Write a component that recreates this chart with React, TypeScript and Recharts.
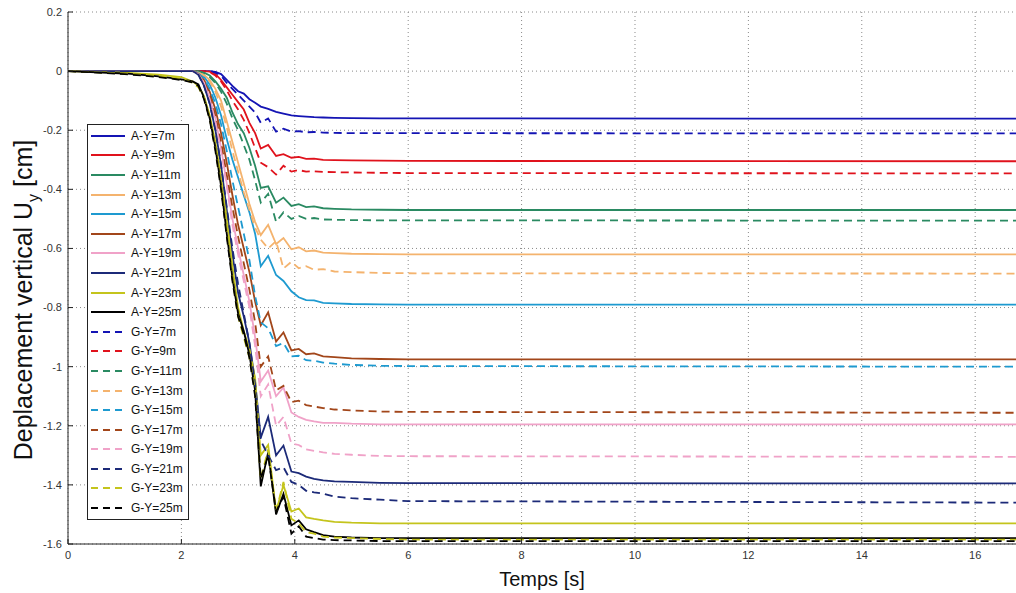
import React from 'react';
import { LineChart, Line, XAxis, YAxis, CartesianGrid, Legend } from 'recharts';

// time samples [s]
const TIME = [0, 1, 1.6, 2.0, 2.2, 2.3, 2.4, 2.5, 2.6, 2.7, 2.8, 2.9, 3.0, 3.1, 3.2, 3.3, 3.4, 3.53, 3.67, 3.8, 3.94, 4.07, 4.2, 4.34, 4.5, 4.7, 5.0, 5.5, 6.0, 16.72];

// vertical displacement [cm], A = solid, G = dashed
const A_7 = [0, 0, 0, 0, 0, 0, 0, 0, -0.003, -0.01, -0.03, -0.05, -0.068, -0.076, -0.095, -0.107, -0.12, -0.128, -0.138, -0.144, -0.15, -0.152, -0.154, -0.156, -0.157, -0.158, -0.159, -0.16, -0.16, -0.161];
const A_9 = [0, 0, 0, 0, 0, 0, 0, -0.002, -0.01, -0.03, -0.055, -0.08, -0.105, -0.13, -0.175, -0.21, -0.262, -0.25, -0.287, -0.281, -0.293, -0.29, -0.297, -0.296, -0.3, -0.301, -0.302, -0.303, -0.304, -0.305];
const A_11 = [0, 0, 0, 0, 0, 0, -0.005, -0.015, -0.035, -0.06, -0.09, -0.14, -0.18, -0.21, -0.26, -0.32, -0.395, -0.39, -0.445, -0.428, -0.456, -0.45, -0.46, -0.458, -0.464, -0.466, -0.468, -0.469, -0.47, -0.47];
const A_13 = [0, 0, 0, 0, 0, -0.004, -0.012, -0.03, -0.06, -0.1, -0.17, -0.24, -0.31, -0.38, -0.45, -0.51, -0.555, -0.52, -0.585, -0.565, -0.603, -0.596, -0.61, -0.607, -0.614, -0.616, -0.618, -0.619, -0.62, -0.62];
const A_15 = [0, 0, 0, 0, 0, -0.006, -0.02, -0.045, -0.09, -0.15, -0.23, -0.3, -0.36, -0.42, -0.478, -0.55, -0.66, -0.625, -0.69, -0.71, -0.745, -0.765, -0.775, -0.776, -0.784, -0.786, -0.788, -0.789, -0.79, -0.79];
const A_17 = [0, 0, 0, 0, 0, -0.008, -0.03, -0.07, -0.13, -0.21, -0.31, -0.42, -0.52, -0.6, -0.68, -0.78, -0.86, -0.816, -0.915, -0.884, -0.945, -0.94, -0.958, -0.955, -0.965, -0.968, -0.972, -0.974, -0.975, -0.975];
const A_19 = [0, 0, 0, 0, 0, -0.01, -0.04, -0.09, -0.16, -0.26, -0.38, -0.5, -0.6, -0.69, -0.78, -0.9, -1.05, -1.013, -1.1, -1.07, -1.155, -1.17, -1.18, -1.185, -1.19, -1.19, -1.193, -1.195, -1.195, -1.195];
const A_21 = [0, 0, 0, 0, 0, -0.012, -0.05, -0.11, -0.2, -0.32, -0.47, -0.62, -0.75, -0.83, -0.92, -1.05, -1.24, -1.17, -1.3, -1.267, -1.355, -1.36, -1.372, -1.38, -1.385, -1.388, -1.39, -1.393, -1.394, -1.395];
const A_23 = [0, -0.005, -0.012, -0.02, -0.035, -0.05, -0.085, -0.15, -0.24, -0.36, -0.5, -0.66, -0.8, -0.88, -0.94, -1.04, -1.3, -1.265, -1.49, -1.4, -1.49, -1.48, -1.51, -1.515, -1.52, -1.525, -1.528, -1.53, -1.53, -1.53];
const A_25 = [0, -0.008, -0.018, -0.028, -0.035, -0.045, -0.09, -0.16, -0.26, -0.39, -0.55, -0.7, -0.82, -0.88, -0.96, -1.08, -1.405, -1.29, -1.5, -1.43, -1.537, -1.52, -1.55, -1.56, -1.57, -1.575, -1.578, -1.58, -1.58, -1.58];

const G_7 = [0, 0, 0, 0, 0, 0, 0, 0, -0.005, -0.015, -0.04, -0.06, -0.08, -0.1, -0.12, -0.14, -0.175, -0.16, -0.205, -0.195, -0.205, -0.203, -0.207, -0.206, -0.208, -0.209, -0.21, -0.21, -0.21, -0.211];
const G_9 = [0, 0, 0, 0, 0, 0, 0, -0.003, -0.015, -0.035, -0.065, -0.1, -0.13, -0.165, -0.21, -0.26, -0.31, -0.325, -0.35, -0.32, -0.34, -0.335, -0.34, -0.339, -0.341, -0.342, -0.343, -0.344, -0.345, -0.346];
const G_11 = [0, 0, 0, 0, 0, 0, -0.006, -0.02, -0.04, -0.07, -0.11, -0.16, -0.2, -0.25, -0.3, -0.37, -0.445, -0.415, -0.51, -0.478, -0.5, -0.49, -0.5, -0.497, -0.502, -0.503, -0.504, -0.505, -0.505, -0.506];
const G_13 = [0, 0, 0, 0, 0, -0.005, -0.015, -0.035, -0.07, -0.12, -0.19, -0.27, -0.34, -0.41, -0.47, -0.53, -0.57, -0.6, -0.575, -0.668, -0.645, -0.667, -0.66, -0.672, -0.67, -0.678, -0.68, -0.683, -0.684, -0.685];
const G_15 = [0, 0, 0, 0, 0, -0.008, -0.025, -0.06, -0.11, -0.18, -0.27, -0.37, -0.46, -0.55, -0.64, -0.76, -0.85, -0.87, -0.93, -0.92, -0.965, -0.963, -0.978, -0.98, -0.986, -0.99, -0.994, -0.997, -0.998, -1.0];
const G_17 = [0, 0, 0, 0, 0, -0.01, -0.035, -0.08, -0.15, -0.24, -0.35, -0.46, -0.56, -0.65, -0.74, -0.85, -1.0, -0.965, -1.08, -1.065, -1.12, -1.115, -1.13, -1.135, -1.14, -1.145, -1.148, -1.152, -1.153, -1.156];
const G_19 = [0, 0, 0, 0, 0, -0.01, -0.04, -0.095, -0.17, -0.27, -0.39, -0.52, -0.62, -0.71, -0.8, -0.93, -1.1, -1.06, -1.2, -1.17, -1.26, -1.265, -1.28, -1.285, -1.29, -1.295, -1.298, -1.302, -1.303, -1.305];
const G_21 = [0, 0, 0, 0, 0, -0.012, -0.05, -0.11, -0.2, -0.32, -0.46, -0.6, -0.72, -0.82, -0.92, -1.06, -1.25, -1.3, -1.35, -1.34, -1.39, -1.4, -1.42, -1.425, -1.43, -1.44, -1.445, -1.45, -1.455, -1.46];
const G_23 = [0, -0.008, -0.016, -0.025, -0.04, -0.055, -0.09, -0.16, -0.26, -0.39, -0.54, -0.7, -0.83, -0.9, -0.97, -1.08, -1.38, -1.28, -1.49, -1.39, -1.515, -1.53, -1.56, -1.565, -1.575, -1.578, -1.58, -1.583, -1.585, -1.585];
const G_25 = [0, -0.01, -0.02, -0.03, -0.038, -0.05, -0.095, -0.165, -0.27, -0.4, -0.56, -0.71, -0.83, -0.89, -0.97, -1.1, -1.38, -1.3, -1.49, -1.44, -1.565, -1.54, -1.575, -1.58, -1.585, -1.587, -1.588, -1.59, -1.59, -1.59];

const DEPTHS = ['7m', '9m', '11m', '13m', '15m', '17m', '19m', '21m', '23m', '25m'];
const COLORS = ['#1414b4', '#e0121c', '#2a8a62', '#f4b36e', '#1e9ad0', '#a2461a', '#f0a2c8', '#1c2a78', '#c4c41c', '#000000'];
const A_SERIES = [A_7, A_9, A_11, A_13, A_15, A_17, A_19, A_21, A_23, A_25];
const G_SERIES = [G_7, G_9, G_11, G_13, G_15, G_17, G_19, G_21, G_23, G_25];

const X_TICKS = [0, 2, 4, 6, 8, 10, 12, 14, 16];
const Y_TICKS = [0.2, 0, -0.2, -0.4, -0.6, -0.8, -1, -1.2, -1.4, -1.6];

const series = [
  ...A_SERIES.map((vals, i) => ({ key: 'A' + i, name: 'A-Y=' + DEPTHS[i], color: COLORS[i], dashed: false, vals })),
  ...G_SERIES.map((vals, i) => ({ key: 'G' + i, name: 'G-Y=' + DEPTHS[i], color: COLORS[i], dashed: true, vals })),
];

const data = TIME.map((t, j) => {
  const row: any = { t };
  series.forEach(s => { row[s.key] = s.vals[j]; });
  return row;
});

const FONT = '"Liberation Sans", Arial, sans-serif';

const LegendBox = () => (
  <div style={{ border: '1px solid #222', background: '#fff', width: 100, padding: '1px 0', fontFamily: FONT, fontSize: 12, color: '#111' }}>
    {series.map(s => (
      <div key={s.key} style={{ display: 'flex', alignItems: 'center', height: 19.6 }}>
        <svg width={40} height={6} style={{ marginLeft: 3 }}>
          <line x1={0} y1={3} x2={34} y2={3} stroke={s.color} strokeWidth={2} strokeDasharray={s.dashed ? '7 5' : undefined} />
        </svg>
        <span>{s.name}</span>
      </div>
    ))}
  </div>
);

const YLabel = (props: any) => {
  const vb = props.viewBox || { x: 0, y: 12, width: 68, height: 532 };
  const cx = 32;
  const cy = vb.y + vb.height / 2 + 22;
  return (
    <text x={cx} y={cy} transform={`rotate(-90 ${cx} ${cy})`} textAnchor="middle" fontFamily={FONT} fontSize={25} fill="#111">
      Deplacement vertical U<tspan fontSize={16} dy={7}>y</tspan><tspan dy={-7}> [cm]</tspan>
    </text>
  );
};

const XLabel = (props: any) => {
  const vb = props.viewBox || { x: 68, y: 544, width: 948, height: 49 };
  return (
    <text x={vb.x + vb.width / 2} y={vb.y + 42} textAnchor="middle" fontFamily={FONT} fontSize={20} fill="#111">
      Temps [s]
    </text>
  );
};

const fmtY = (v: number) => (Math.abs(v) < 1e-9 ? '0' : String(Math.round(v * 10) / 10));

export default function App() {
  return (
    <div style={{ position: 'absolute', left: 0, top: 0, background: '#fff' }}>
      <LineChart width={1016} height={593} data={data} margin={{ top: 12, right: 0, bottom: 0, left: 0 }}>
        <CartesianGrid stroke="#8a8a8a" strokeDasharray="1 3" horizontalValues={Y_TICKS} verticalValues={X_TICKS} />
        <XAxis
          dataKey="t"
          type="number"
          domain={[0, 16.72]}
          ticks={X_TICKS}
          allowDataOverflow
          height={49}
          stroke="#222"
          tickSize={-5}
          tickMargin={12}
          tick={{ fontFamily: FONT, fontSize: 11, fill: '#333' }}
          label={<XLabel />}
        />
        <XAxis xAxisId="top" orientation="top" dataKey="t" type="number" domain={[0, 16.72]} ticks={X_TICKS} height={0} stroke="#222" tick={false} tickSize={-5} />
        <YAxis
          type="number"
          domain={[-1.6, 0.2]}
          ticks={Y_TICKS}
          allowDataOverflow
          width={68}
          stroke="#222"
          tickSize={-5}
          tickMargin={11}
          tickFormatter={fmtY}
          tick={{ fontFamily: FONT, fontSize: 11, fill: '#333' }}
          label={<YLabel />}
        />
        <Legend
          layout="vertical"
          align="center"
          verticalAlign="middle"
          wrapperStyle={{ left: 87, top: 124, width: 102 }}
          content={() => <LegendBox />}
        />
        {series.map(s => (
          <Line
            key={s.key}
            dataKey={s.key}
            name={s.name}
            type="linear"
            stroke={s.color}
            strokeWidth={1.8}
            strokeDasharray={s.dashed ? '8 5' : undefined}
            dot={false}
            activeDot={false}
            isAnimationActive={false}
          />
        ))}
      </LineChart>
    </div>
  );
}
